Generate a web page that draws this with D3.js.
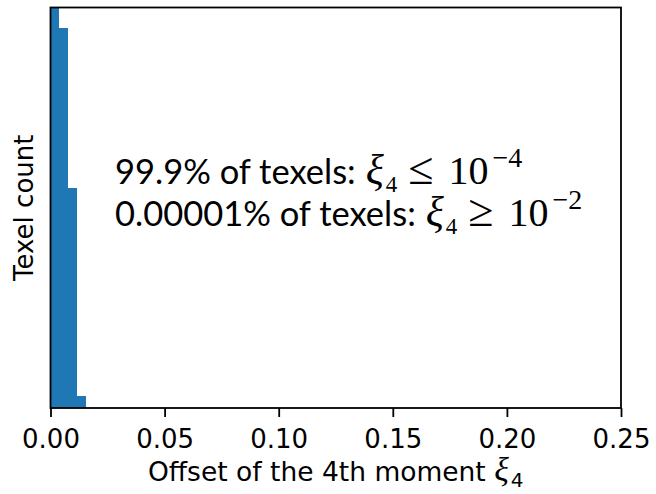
<!DOCTYPE html>
<html>
<head>
<meta charset="utf-8">
<script src="https://cdn.jsdelivr.net/npm/d3@7"></script>
<style>
  body { margin: 0; background: #fff; }
  svg { display: block; }
</style>
</head>
<body>
<svg id="chart" width="656" height="494"></svg>
<script>
// histogram bins (left edges) and counts, y in arbitrary units (axis has no ticks)
const binEdges = [0, 0.0039, 0.0078, 0.0117, 0.0156];
const binCounts = [110, 95, 55, 3];
const xTicks = [0, 0.05, 0.1, 0.15, 0.2, 0.25];
const xDomain = [0, 0.25];
const yDomain = [0, 100];

// annotation text, split in plain part and math part
const noteLines = [
  { label: "99.9% of texels:", rel: "\u2264", exp: "\u22124" },
  { label: "0.00001% of texels:", rel: "\u2265", exp: "\u22122" }
];

const svg = d3.select("#chart");
const margin = { left: 50.5, top: 7.5, right: 35, bottom: 86 };
const width = 656 - margin.left - margin.right;
const height = 494 - margin.top - margin.bottom;

const g = svg.append("g").attr("transform", `translate(${margin.left},${margin.top})`);

const x = d3.scaleLinear().domain(xDomain).range([0, width]);
const y = d3.scaleLinear().domain(yDomain).range([height, 0]);

//Clip the bars to the axes box
svg.append("defs").append("clipPath").attr("id", "plot-clip")
  .append("rect").attr("width", width).attr("height", height);

const bins = binCounts.map((c, i) => ({ x0: binEdges[i], x1: binEdges[i + 1], count: c }));

g.append("g").attr("clip-path", "url(#plot-clip)")
  .selectAll("rect")
  .data(bins)
  .enter()
  .append("rect")
  .attr("x", d => x(d.x0))
  .attr("width", d => x(d.x1) - x(d.x0))
  .attr("y", d => y(d.count))
  .attr("height", d => height - y(d.count))
  .attr("fill", "#1f77b4")
  .attr("shape-rendering", "crispEdges");

//x axis
const xAxis = d3.axisBottom(x).tickValues(xTicks).tickFormat(d3.format(".2f"))
  .tickSize(9).tickPadding(13);
const xg = g.append("g").attr("transform", `translate(0,${height})`).call(xAxis);
xg.select(".domain").remove();
xg.selectAll(".tick line").attr("stroke", "#000").attr("stroke-width", 1.8);
xg.selectAll(".tick text").attr("fill", "#000")
  .style("font-family", "DejaVu Sans").style("font-size", "26px");

//axes frame
g.append("rect").attr("width", width).attr("height", height)
  .attr("fill", "none").attr("stroke", "#000").attr("stroke-width", 1.8);

//axis labels
svg.append("text")
  .attr("transform", `translate(33,${margin.top + height / 2}) rotate(-90)`)
  .attr("text-anchor", "middle")
  .style("font-family", "DejaVu Sans").style("font-size", "26px")
  .text("Texel count");

const xl = svg.append("text")
  .attr("x", 148).attr("y", 481)
  .style("font-family", "DejaVu Sans").style("font-size", "26.5px");
xl.append("tspan").text("Offset of the 4th moment ");
xl.append("tspan").style("font-family", "Liberation Serif").style("font-style", "italic")
  .style("font-size", "34px").text("\u03be");
xl.append("tspan").attr("dx", 2).attr("dy", 6).style("font-size", "20px").text("4");

//annotation
const noteTop = 184;
const noteGap = 42;
noteLines.forEach((ln, i) => {
  const t = svg.append("text")
    .attr("x", 115).attr("y", noteTop + i * noteGap)
    .style("font-family", "Liberation Serif").style("font-size", "40px").attr("fill", "#000");
  t.append("tspan").style("font-family", "Lato").style("font-size", "34.5px").text(ln.label);
  t.append("tspan").attr("dx", 10).style("font-style", "italic").style("font-size", "42px").text("\u03be");
  t.append("tspan").attr("dx", 2).attr("dy", 8).style("font-size", "23px").text("4");
  t.append("tspan").attr("dx", 11).attr("dy", -8).style("font-size", "46px").text(ln.rel);
  t.append("tspan").attr("dx", 15).text("10");
  t.append("tspan").attr("dx", 4).attr("dy", -17).style("font-size", "28px").text(ln.exp);
});
</script>
</body>
</html>
